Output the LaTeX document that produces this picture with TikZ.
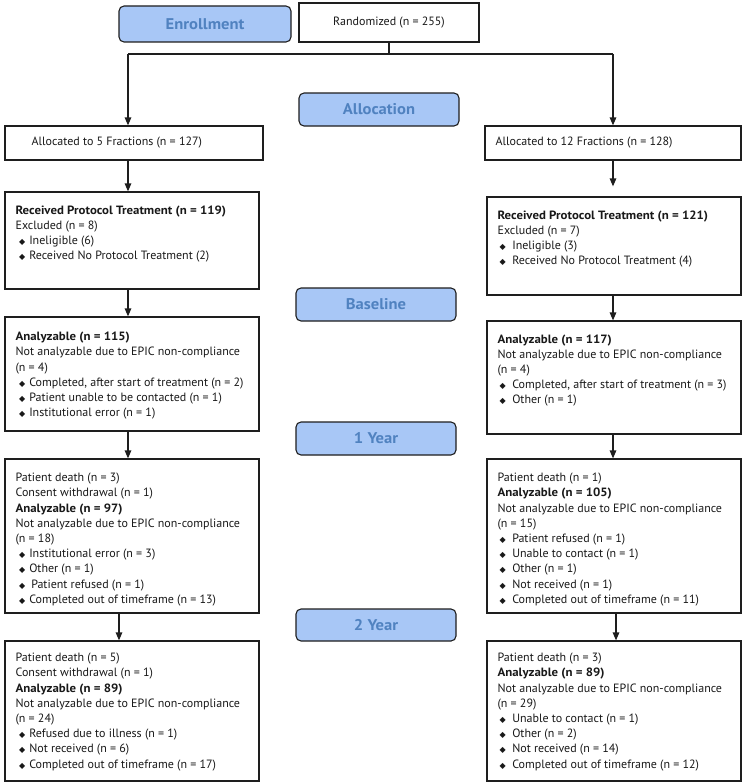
\documentclass[tikz,border=0pt]{standalone}
\usepackage{fontspec}
\setmainfont{PT Sans}[BoldFeatures={FakeStretch=1.07}]
\newfontfamily\symfont{DejaVu Sans}
\usetikzlibrary{arrows.meta,calc,fit}
\definecolor{phasefill}{RGB}{168,199,246}
\definecolor{phasetext}{RGB}{80,130,192}
\definecolor{edge}{RGB}{30,30,30}
\newcommand\dmd{{\symfont\fontsize{8}{8}\selectfont ◆}}
\newcommand\dl{\hspace*{3.5pt}\dmd\hspace{4pt}}
\newcommand\dr{\hspace*{2pt}\dmd\hspace{6.5pt}}
\begin{document}
\begin{tikzpicture}[x=1pt,y=-1pt,
  box/.style={draw=edge, line width=1.2pt, inner sep=0pt},
  phase/.style={draw=edge, fill=phasefill, rounded corners=5pt, line width=1.1pt, inner sep=0pt},
  phasetxt/.style={text=phasetext, font=\fontsize{15.5}{18}\selectfont\bfseries, inner sep=0pt},
  txt/.style={anchor=north west, inner sep=0pt, align=left, text=black!90, font=\fontsize{12}{15.2}\selectfont},
  linetxt/.style={inner sep=0pt, text=black!90, font=\fontsize{12}{15}\selectfont},
  arr/.style={draw=edge, line width=1.3pt, -{Triangle[length=8pt,width=6.5pt]}},
  conn/.style={draw=edge, line width=1.3pt}]
\useasboundingbox (0,0) rectangle (745,784);
\fill[white] (0,0) rectangle (745,784);

% phase labels
\node[phase, fit={(119,6) (291,42)}] (enr) {};
\node[phasetxt] (enrt) at (enr.center) {Enrollment};
\node[phase, fit={(299,93) (459,126)}] (alc) {};
\node[phasetxt] (alct) at (alc.center) {Allocation};
\node[phase, fit={(296,288) (456,321)}] (bas) {};
\node[phasetxt] (bast) at (bas.center) {Baseline};
\node[phase, fit={(296,422) (456,455)}] (yr1) {};
\node[phasetxt] (yr1t) at (yr1.center) {1 Year};
\node[phase, fit={(296,609) (456,641)}] (yr2) {};
\node[phasetxt] (yr2t) at (yr2.center) {2 Year};

% boxes
\node[box, fit={(299,3) (479,42)}] (rand) {};
\node[linetxt] (randt) at (rand.center) {Randomized (n = 255)};
\node[box, fit={(5,126) (263,160)}] (a5) {};
\node[linetxt, anchor=west] (a5t) at ($(a5.west)+(27,0)$) {Allocated to 5 Fractions (n = 127)};
\node[box, fit={(485,126) (741,160)}] (a12) {};
\node[linetxt, anchor=west] (a12t) at ($(a12.west)+(11,0)$) {Allocated to 12 Fractions (n = 128)};

\node[box, fit={(5,192) (259,289)}] (rl) {};
\node[txt] (rlt) at ($(rl.north west)+(11,14)$) {\textbf{Received Protocol Treatment (n = 119)}\\
Excluded (n = 8)\\
\dl Ineligible (6)\\
\dl Received No Protocol Treatment (2)};

\node[box, fit={(487,197) (741,295)}] (rr) {};
\node[txt] (rrt) at ($(rr.north west)+(11,14)$) {\textbf{Received Protocol Treatment (n = 121)}\\
Excluded (n = 7)\\
\dr Ineligible (3)\\
\dr Received No Protocol Treatment (4)};

\node[box, fit={(5,317) (259,431)}] (al) {};
\node[txt] (alt) at ($(al.north west)+(11,15.5)$) {\textbf{Analyzable (n = 115)}\\
Not analyzable due to EPIC non-compliance\\
(n = 4)\\
\dl Completed, after start of treatment (n = 2)\\
\dl Patient unable to be contacted (n = 1)\\
\dl Institutional error (n = 1)};

\node[box, fit={(487,321) (741,434)}] (ar) {};
\node[txt] (art) at ($(ar.north west)+(11,14)$) {\textbf{Analyzable (n = 117)}\\
Not analyzable due to EPIC non-compliance\\
(n = 4)\\
\dr Completed, after start of treatment (n = 3)\\
\dr Other (n = 1)};

\node[box, fit={(5,459) (259,613)}] (yl) {};
\node[txt] (ylt) at ($(yl.north west)+(11,14.5)$) {Patient death (n = 3)\\
Consent withdrawal (n = 1)\\
\textbf{Analyzable (n = 97)}\\
Not analyzable due to EPIC non-compliance\\
(n = 18)\\
\dl Institutional error (n = 3)\\
\dl Other (n = 1)\\
\dl\hspace{2pt}Patient refused (n = 1)\\
\dl Completed out of timeframe (n = 13)};

\node[box, fit={(487,459) (741,613)}] (yr) {};
\node[txt] (yrt) at ($(yr.north west)+(11,14.5)$) {Patient death (n = 1)\\
\textbf{Analyzable (n = 105)}\\
Not analyzable due to EPIC non-compliance\\
(n = 15)\\
\dr Patient refused (n = 1)\\
\dr Unable to contact (n = 1)\\
\dr Other (n = 1)\\
\dr Not received (n = 1)\\
\dr Completed out of timeframe (n = 11)};

\node[box, fit={(5,641) (259,781)}] (zl) {};
\node[txt] (zlt) at ($(zl.north west)+(11,12.5)$) {Patient death (n = 5)\\
Consent withdrawal (n = 1)\\
\textbf{Analyzable (n = 89)}\\
Not analyzable due to EPIC non-compliance\\
(n = 24)\\
\dl Refused due to illness (n = 1)\\
\dl Not received (n = 6)\\
\dl Completed out of timeframe (n = 17)};

\node[box, fit={(487,641) (741,781)}] (zr) {};
\node[txt] (zrt) at ($(zr.north west)+(11,12.5)$) {Patient death (n = 3)\\
\textbf{Analyzable (n = 89)}\\
Not analyzable due to EPIC non-compliance\\
(n = 29)\\
\dr Unable to contact (n = 1)\\
\dr Other (n = 2)\\
\dr Not received (n = 14)\\
\dr Completed out of timeframe (n = 12)};

% connector coordinates
\coordinate (hl) at (0,54);
\coordinate (cl) at (128,0);
\coordinate (cr) at (613,0);
\coordinate (cl2) at (119,0);
\coordinate (cr2) at (616,0);

\draw[conn] (rand.south) -- (hl -| rand.south);
\draw[conn] (hl -| cl) -- (hl -| cr);
\draw[arr] (hl -| cl) -- (a5.north -| cl);
\draw[arr] (hl -| cr) -- (a12.north -| cr);
\draw[arr] (a5.south -| cl) -- (rl.north -| cl);
\draw[arr, shorten >=10pt] (a12.south -| cr) -- (rr.north -| cr);
\draw[arr] (rl.south -| cl) -- (al.north -| cl);
\draw[arr] (rr.south -| cr) -- (ar.north -| cr);
\draw[arr] (al.south -| cl) -- (yl.north -| cl);
\draw[arr] (ar.south -| cr) -- (yr.north -| cr);
\draw[arr] (yl.south -| cl2) -- (zl.north -| cl2);
\draw[arr] (yr.south -| cr2) -- (zr.north -| cr2);
\end{tikzpicture}
\end{document}
